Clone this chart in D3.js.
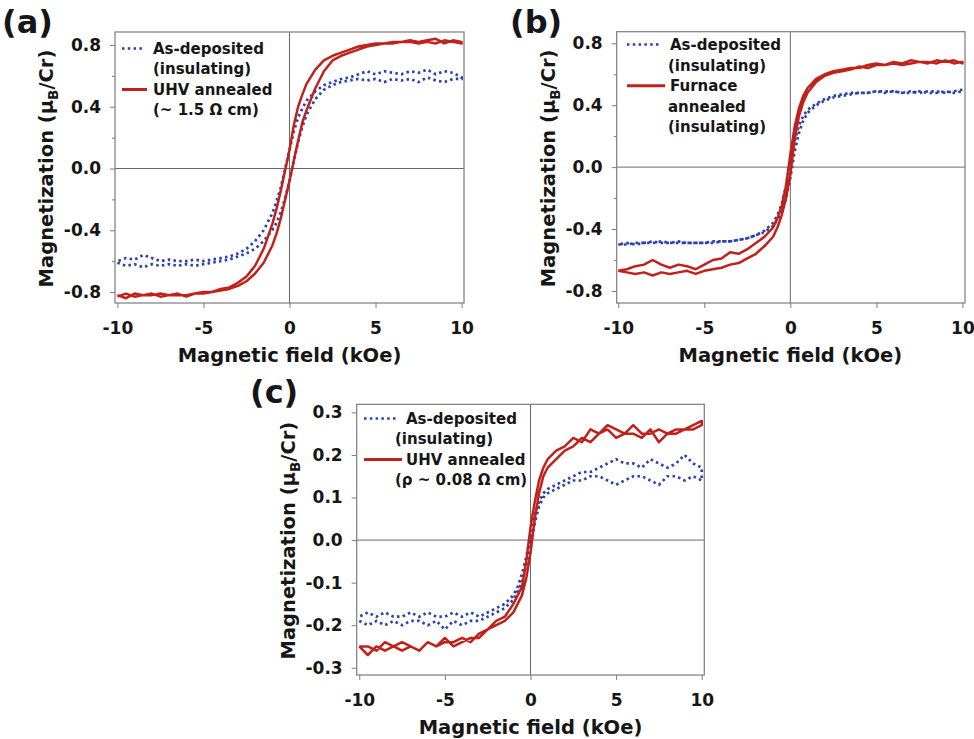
<!DOCTYPE html>
<html>
<head>
<meta charset="utf-8">
<script src="https://cdn.jsdelivr.net/npm/d3@7"></script>
<style>
body { margin: 0; background: #fff; }
text { font-family: "DejaVu Sans", sans-serif; font-weight: bold; fill: #161616; }
</style>
</head>
<body>
<script>
// magnetic field sweep (kOe), shared by every loop
const fieldKOe = [-10,-9.5,-9,-8.5,-8,-7.5,-7,-6.5,-6,-5.5,-5,-4.5,-4,-3.5,-3,-2.5,-2,-1.5,-1,
  -0.75,-0.5,-0.25,0,0.25,0.5,0.75,
  1,1.5,2,2.5,3,3.5,4,4.5,5,5.5,6,6.5,7,7.5,8,8.5,9,9.5,10];

// (a) "up" = sweep from -10 to 10, "down" = sweep from 10 to -10 (listed in field order)
const aDepUp = [-0.61,-0.63,-0.62,-0.64,-0.62,-0.63,-0.62,-0.63,-0.62,-0.63,-0.62,-0.61,-0.60,-0.59,-0.57,-0.55,-0.52,-0.47,-0.40,
  -0.35,-0.28,-0.19,-0.08,0.05,0.17,0.27,
  0.35,0.45,0.51,0.54,0.56,0.57,0.58,0.57,0.58,0.56,0.58,0.57,0.58,0.56,0.59,0.57,0.56,0.58,0.58];
const aDepDown = [-0.60,-0.58,-0.59,-0.56,-0.58,-0.60,-0.59,-0.60,-0.60,-0.59,-0.60,-0.59,-0.58,-0.57,-0.55,-0.52,-0.47,-0.40,-0.29,
  -0.21,-0.12,0.00,0.12,0.24,0.33,0.39,
  0.44,0.50,0.54,0.56,0.58,0.59,0.61,0.63,0.61,0.63,0.62,0.61,0.63,0.62,0.64,0.61,0.63,0.62,0.59];
const aAnnUp = [-0.83,-0.81,-0.83,-0.82,-0.82,-0.81,-0.82,-0.82,-0.82,-0.81,-0.81,-0.80,-0.79,-0.78,-0.76,-0.73,-0.68,-0.61,-0.50,
  -0.42,-0.32,-0.20,-0.08,0.05,0.18,0.30,
  0.38,0.52,0.63,0.70,0.73,0.75,0.77,0.79,0.80,0.81,0.81,0.82,0.82,0.81,0.82,0.81,0.83,0.82,0.81];
const aAnnDown = [-0.82,-0.84,-0.81,-0.82,-0.81,-0.83,-0.82,-0.81,-0.83,-0.81,-0.80,-0.80,-0.78,-0.77,-0.74,-0.70,-0.63,-0.52,-0.36,
  -0.26,-0.14,-0.01,0.12,0.28,0.40,0.48,
  0.55,0.64,0.70,0.73,0.75,0.77,0.79,0.80,0.81,0.81,0.82,0.82,0.83,0.82,0.83,0.84,0.81,0.83,0.82];

// (b)
const bDepUp = [-0.50,-0.50,-0.49,-0.49,-0.49,-0.48,-0.49,-0.49,-0.49,-0.49,-0.49,-0.49,-0.48,-0.48,-0.47,-0.46,-0.44,-0.42,-0.38,
  -0.34,-0.29,-0.20,-0.07,0.10,0.22,0.30,
  0.35,0.40,0.43,0.45,0.46,0.47,0.48,0.48,0.49,0.48,0.49,0.48,0.48,0.49,0.48,0.48,0.49,0.48,0.49];
const bDepDown = [-0.50,-0.49,-0.50,-0.49,-0.48,-0.49,-0.49,-0.48,-0.49,-0.49,-0.49,-0.48,-0.48,-0.48,-0.47,-0.46,-0.44,-0.41,-0.36,
  -0.31,-0.24,-0.12,0.04,0.17,0.27,0.33,
  0.37,0.41,0.44,0.46,0.47,0.48,0.48,0.48,0.49,0.49,0.49,0.48,0.49,0.48,0.49,0.49,0.48,0.49,0.50];
const bAnnUp = [-0.67,-0.68,-0.69,-0.68,-0.70,-0.68,-0.69,-0.68,-0.67,-0.69,-0.67,-0.66,-0.65,-0.63,-0.62,-0.59,-0.56,-0.51,-0.45,
  -0.39,-0.31,-0.20,-0.05,0.18,0.33,0.42,
  0.48,0.55,0.59,0.61,0.62,0.63,0.65,0.64,0.66,0.66,0.67,0.66,0.67,0.68,0.68,0.67,0.69,0.67,0.68];
const bAnnDown = [-0.67,-0.66,-0.64,-0.63,-0.60,-0.63,-0.65,-0.63,-0.64,-0.66,-0.63,-0.60,-0.59,-0.55,-0.56,-0.53,-0.49,-0.45,-0.39,
  -0.33,-0.25,-0.12,0.08,0.26,0.38,0.46,
  0.51,0.57,0.60,0.62,0.63,0.64,0.64,0.66,0.67,0.66,0.68,0.67,0.69,0.68,0.67,0.69,0.68,0.69,0.67];

// (c)
const cDepUp = [-0.19,-0.20,-0.19,-0.20,-0.19,-0.20,-0.19,-0.19,-0.20,-0.19,-0.21,-0.19,-0.20,-0.19,-0.19,-0.18,-0.17,-0.16,-0.14,
  -0.12,-0.10,-0.06,-0.01,0.04,0.08,0.10,
  0.11,0.12,0.13,0.14,0.14,0.15,0.15,0.14,0.13,0.14,0.15,0.15,0.14,0.13,0.15,0.15,0.14,0.15,0.14];
const cDepDown = [-0.18,-0.17,-0.18,-0.17,-0.18,-0.18,-0.17,-0.18,-0.17,-0.18,-0.18,-0.17,-0.18,-0.17,-0.18,-0.17,-0.16,-0.15,-0.13,
  -0.11,-0.08,-0.04,0.01,0.06,0.09,0.11,
  0.12,0.13,0.14,0.15,0.16,0.16,0.17,0.18,0.19,0.18,0.18,0.17,0.19,0.18,0.17,0.18,0.20,0.18,0.17];
const cAnnUp = [-0.25,-0.27,-0.25,-0.26,-0.25,-0.26,-0.25,-0.26,-0.24,-0.25,-0.23,-0.25,-0.24,-0.23,-0.23,-0.21,-0.20,-0.19,-0.17,
  -0.15,-0.13,-0.09,-0.03,0.05,0.11,0.15,
  0.17,0.19,0.21,0.22,0.24,0.23,0.25,0.26,0.24,0.25,0.25,0.24,0.26,0.23,0.25,0.25,0.26,0.26,0.27];
const cAnnDown = [-0.25,-0.25,-0.26,-0.24,-0.25,-0.24,-0.25,-0.26,-0.24,-0.25,-0.24,-0.24,-0.23,-0.24,-0.22,-0.21,-0.19,-0.18,-0.15,
  -0.13,-0.11,-0.05,0.03,0.09,0.14,0.17,
  0.19,0.21,0.22,0.24,0.23,0.26,0.25,0.27,0.26,0.25,0.27,0.25,0.25,0.26,0.25,0.26,0.26,0.27,0.28];

const xTicks = [-10, -5, 0, 5, 10];
const yTicksAB = [-0.8, -0.4, 0, 0.4, 0.8];
const yMinorAB = [-0.6, -0.2, 0.2, 0.6];
const yTicksC = [-0.3, -0.2, -0.1, 0, 0.1, 0.2, 0.3];

const legendA = ["As-deposited", "(insulating)", "UHV annealed", "(~ 1.5 \u03A9 cm)"];
const legendB = ["As-deposited", "(insulating)", "Furnace", "annealed", "(insulating)"];
const legendC = ["As-deposited", "(insulating)", "UHV annealed", "(\u03C1 ~ 0.08 \u03A9 cm)"];

const blue = "#2a42ad", red = "#c0221b", grey = "#7c7c7c";

const svg = d3.select("body").append("svg")
  .attr("width", 974).attr("height", 739);

const panels = [
  { tag: "(a)", tagX: 2, tagY: 33, left: 115, top: 32, w: 349, h: 271,
    xDom: [-10.14, 10.14], yDom: [-0.871, 0.884], yTicks: yTicksAB, yMinor: yMinorAB,
    dep: [aDepUp, aDepDown], ann: [aAnnUp, aAnnDown],
    legend: legendA, legX: [153, 153, 153, 153], legY: 48.5, legStep: 20.5,
    symX: [122, 145], symRows: [0, 2] },
  { tag: "(b)", tagX: 510, tagY: 33, left: 616.7, top: 31.7, w: 348.3, h: 271.3,
    xDom: [-10.09, 10.15], yDom: [-0.878, 0.875], yTicks: yTicksAB, yMinor: yMinorAB,
    dep: [bDepUp, bDepDown], ann: [bAnnUp, bAnnDown],
    legend: legendB, legX: [670, 668, 670, 668, 668], legY: 44.5, legStep: 20.6,
    symX: [627, 663], symRows: [0, 2] },
  { tag: "(c)", tagX: 250, tagY: 403, left: 356.7, top: 404.3, w: 347.6, h: 270.7,
    xDom: [-10.15, 10.15], yDom: [-0.317, 0.319], yTicks: yTicksC, yMinor: [],
    dep: [cDepUp, cDepDown], ann: [cAnnUp, cAnnDown],
    legend: legendC, legX: [406, 395, 406, 395], legY: 418.5, legStep: 20.5,
    symX: [364, 400], symRows: [0, 2] }
];

panels.forEach(p => {
  const x = d3.scaleLinear().domain(p.xDom).range([0, p.w]);
  const y = d3.scaleLinear().domain(p.yDom).range([p.h, 0]);
  const g = svg.append("g").attr("transform", `translate(${p.left},${p.top})`);

  // zero lines
  g.append("line").attr("x1", 0).attr("x2", p.w).attr("y1", y(0)).attr("y2", y(0))
    .attr("stroke", "#6a6a6a").attr("stroke-width", 1);
  g.append("line").attr("x1", x(0)).attr("x2", x(0)).attr("y1", 0).attr("y2", p.h)
    .attr("stroke", "#6a6a6a").attr("stroke-width", 1);

  const line = d3.line().x(d => x(d[0])).y(d => y(d[1]));
  const loop = pair => {
    const up = fieldKOe.map((f, i) => [f, pair[0][i]]);
    const down = fieldKOe.map((f, i) => [f, pair[1][i]]).reverse();
    return up.concat(down);
  };

  g.append("path").attr("d", line(loop(p.dep)))
    .attr("fill", "none").attr("stroke", blue).attr("stroke-width", 2.7)
    .attr("stroke-dasharray", "2.5 3.3");
  g.append("path").attr("d", line(loop(p.ann)))
    .attr("fill", "none").attr("stroke", red).attr("stroke-width", 2.5)
    .attr("stroke-linejoin", "round");

  // frame
  g.append("rect").attr("width", p.w).attr("height", p.h)
    .attr("fill", "none").attr("stroke", grey).attr("stroke-width", 1.2);

  // axes
  const xa = g.append("g").attr("transform", `translate(0,${p.h})`)
    .call(d3.axisBottom(x).tickValues(xTicks).tickSize(5).tickPadding(14).tickFormat(d => String(d)));
  const ya = g.append("g")
    .call(d3.axisLeft(y).tickValues(p.yTicks).tickSize(5).tickPadding(9).tickFormat(d => d.toFixed(1)));
  const ym = g.append("g")
    .call(d3.axisLeft(y).tickValues(p.yMinor).tickSize(3).tickFormat(""));
  [xa, ya, ym].forEach(a => {
    a.select(".domain").remove();
    a.selectAll(".tick line").attr("stroke", grey);
    a.selectAll("text").attr("font-size", 17).attr("font-family", null).attr("fill", "#161616");
  });

  // axis titles
  g.append("text").attr("x", x(0)).attr("y", p.h + 59)
    .attr("text-anchor", "middle").attr("font-size", 19.5).text("Magnetic field (kOe)");
  const yt = g.append("text")
    .attr("transform", `translate(-62,${p.h / 2 + 1}) rotate(-90)`)
    .attr("text-anchor", "middle").attr("font-size", 19.5);
  yt.append("tspan").text("Magnetization (\u03BC");
  yt.append("tspan").attr("font-size", 13.5).attr("dy", 5).text("B");
  yt.append("tspan").attr("dy", -5).text("/Cr)");

  // legend
  p.legend.forEach((t, i) => {
    svg.append("text").attr("x", p.legX[i]).attr("y", p.legY + i * p.legStep)
      .attr("dy", "0.36em").attr("font-size", 15).text(t);
  });
  svg.append("line").attr("x1", p.symX[0]).attr("x2", p.symX[1] - 3)
    .attr("y1", p.legY + p.symRows[0] * p.legStep).attr("y2", p.legY + p.symRows[0] * p.legStep)
    .attr("stroke", blue).attr("stroke-width", 2.7).attr("stroke-dasharray", "2.5 3.3");
  svg.append("line").attr("x1", p.symX[0]).attr("x2", p.symX[1] + 2)
    .attr("y1", p.legY + p.symRows[1] * p.legStep).attr("y2", p.legY + p.symRows[1] * p.legStep)
    .attr("stroke", red).attr("stroke-width", 3);

  // panel tag
  svg.append("text").attr("x", p.tagX).attr("y", p.tagY)
    .attr("font-size", 32).text(p.tag);
});
</script>
</body>
</html>
